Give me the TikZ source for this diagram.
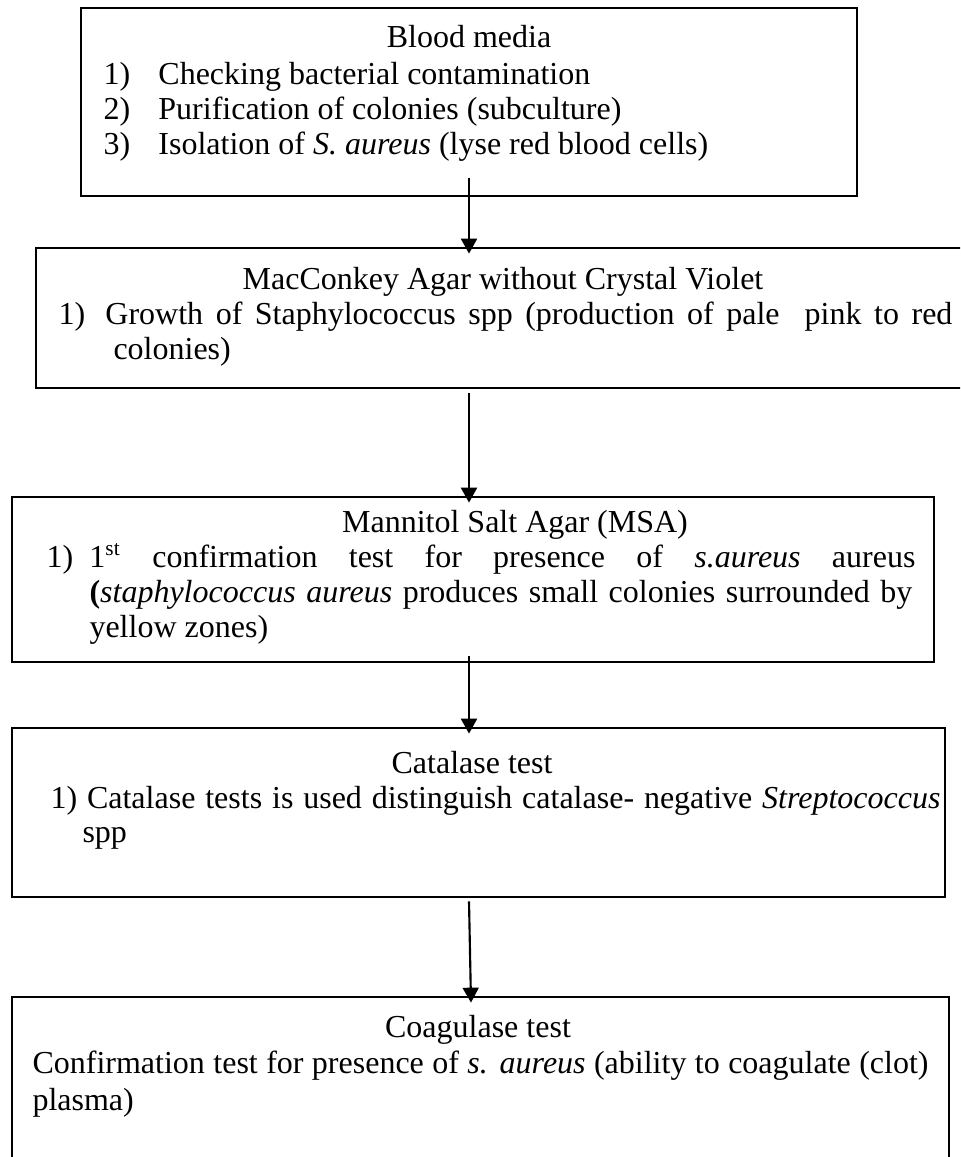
\documentclass[tikz,border=0pt]{standalone}
\usepackage{fontspec}
\setmainfont{Liberation Serif}
\usetikzlibrary{arrows.meta}

\begin{document}
\begin{tikzpicture}[x=0.375pt, y=-0.375pt,
    stage/.style={rectangle, draw, line width=1pt, inner sep=0pt},
    flow/.style={line width=0.8pt, -{Triangle[length=5.6pt,width=6pt]}},
    txt/.style={anchor=base west, inner sep=0pt, font=\fontsize{12pt}{14pt}\selectfont},
    head/.style={anchor=base, inner sep=0pt, font=\fontsize{12pt}{14pt}\selectfont}]

    \clip (0,0) rectangle (960,1157);

    % Boxes
    \node[stage, minimum width=291pt, minimum height=70.5pt] (blood) at (469,102) {};
    \node[stage, minimum width=350.25pt, minimum height=52.5pt] (macconkey) at (503,318) {};
    \node[stage, minimum width=345.75pt, minimum height=61.875pt] (msa) at (473,579.5) {};
    \node[stage, minimum width=349.875pt, minimum height=63.375pt] (catalase) at (478.5,812.5) {};
    \node[stage, minimum width=351.375pt, minimum height=64.875pt] (coagulase) at (480.5,1083.5) {};

    % Blood media
    \node[head] (bloodhead) at (469,48) {Blood media};
    \node[txt] (blood1) at (103,85) {\makebox[20.6pt][l]{1)}Checking bacterial contamination};
    \node[txt] (blood2) at (103,120) {\makebox[20.6pt][l]{2)}Purification of colonies (subculture)};
    \node[txt] (blood3) at (103,155) {\makebox[20.6pt][l]{3)}Isolation of \textit{S. aureus} (lyse red blood cells)};

    % MacConkey agar
    \node[head] (machead) at (503,290) {MacConkey Agar without Crystal Violet};
    \node[txt] (mac1) at (58,325) {\makebox[17.6pt][l]{1)}\makebox[317.6pt][s]{Growth of Staphylococcus spp (production of pale\ \ pink to red}};
    \node[txt] (mac2) at (113,360) {colonies)};

    % Mannitol salt agar
    \node[head] (msahead) at (515,532) {Mannitol Salt Agar (MSA)};
    \node[txt] (msa1) at (46,567) {\makebox[16.1pt][l]{1)}\makebox[309.75pt][s]{1\textsuperscript{st} confirmation test for presence of \textit{s.aureus} aureus}};
    \node[txt] (msa2) at (89,602) {\makebox[308.6pt][s]{\textbf{(}\textit{staphylococcus aureus} produces small colonies surrounded by}};
    \node[txt] (msa3) at (89,637) {yellow zones)};

    % Catalase test
    \node[head] (cathead) at (472,773) {Catalase test};
    \node[txt] (cat1) at (50,808) {\makebox[333.75pt][s]{1) Catalase tests is used distinguish catalase- negative \textit{Streptococcus}}};
    \node[txt] (cat2) at (82,842) {spp};

    % Coagulase test
    \node[head] (coahead) at (478,1037) {Coagulase test};
    \node[txt] (coa1) at (32,1073) {\makebox[336pt][s]{Confirmation test for presence of \textit{s. aureus} (ability to coagulate (clot)}};
    \node[txt] (coa2) at (32,1110) {plasma)};

    % Connections
    \draw[flow] ([yshift=7.1pt]blood.south) -- ([yshift=-2.6pt]blood.south |- macconkey.north);
    \draw[flow] ([yshift=-1.5pt]blood.south |- macconkey.south) -- ([yshift=-2.6pt]blood.south |- msa.north);
    \draw[flow] ([yshift=2.6pt]blood.south |- msa.south) -- ([yshift=-2.6pt]blood.south |- catalase.north);
    \draw[flow] ([yshift=-1.1pt]blood.south |- catalase.south) -- ([xshift=0.75pt,yshift=-2.6pt]blood.south |- coagulase.north);
\end{tikzpicture}
\end{document}
